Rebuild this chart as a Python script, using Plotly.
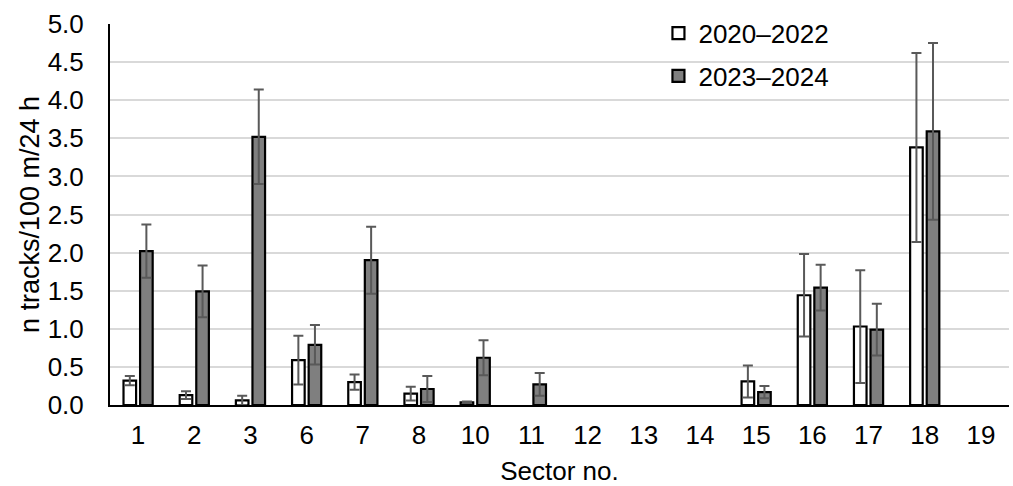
import plotly.graph_objects as go

sectors = ["1", "2", "3", "6", "7", "8", "10", "11", "12", "13", "14", "15", "16", "17", "18", "19"]
series_names = ["2020–2022", "2023–2024"]
# None = no bar drawn (zero tracks)
vals_2020_2022 = [0.32, 0.13, 0.06, 0.59, 0.30, 0.15, 0.035, None, None, None, None, 0.31, 1.44, 1.03, 3.38, None]
err_2020_2022 = [0.06, 0.05, 0.06, 0.32, 0.10, 0.09, 0.01, None, None, None, None, 0.21, 0.54, 0.74, 1.24, None]
vals_2023_2024 = [2.02, 1.49, 3.52, 0.79, 1.90, 0.21, 0.62, 0.27, None, None, None, 0.17, 1.54, 0.99, 3.59, None]
err_2023_2024 = [0.35, 0.34, 0.62, 0.26, 0.44, 0.17, 0.23, 0.15, None, None, None, 0.08, 0.30, 0.34, 1.16, None]
y_ticks = [0, 0.5, 1.0, 1.5, 2.0, 2.5, 3.0, 3.5, 4.0, 4.5, 5.0]

FONT = "Liberation Sans, Arial, sans-serif"
fills = ["#ffffff", "#7f7f7f"]

fig = go.Figure()
for name, vals, errs, fill, grp in [
    (series_names[0], vals_2020_2022, err_2020_2022, fills[0], "a"),
    (series_names[1], vals_2023_2024, err_2023_2024, fills[1], "b"),
]:
    fig.add_trace(go.Bar(
        x=sectors, y=vals, name=name, legendgroup=grp,
        marker=dict(color=fill, line=dict(color="#000000", width=2.2)),
        error_y=dict(type="data", array=errs, visible=True, color="#595959",
                     thickness=2, width=5),
    ))

fig.update_layout(
    width=1013, height=486,
    margin=dict(l=110, r=4, t=24, b=81, autoexpand=False),
    paper_bgcolor="white", plot_bgcolor="white",
    barmode="group", bargap=0.41, bargroupgap=0.24,
    font=dict(family=FONT, size=26, color="#000000"),
    showlegend=True,
    legend=dict(xref="container", yref="container", x=0.650, y=0.980,
                xanchor="left", yanchor="top",
                font=dict(size=26, color="#000000"), bgcolor="rgba(0,0,0,0)",
                tracegroupgap=6, traceorder="grouped"),
    xaxis=dict(
        title=dict(text="Sector no.", font=dict(size=26), standoff=14),
        showline=True, linecolor="#000000", linewidth=2,
        ticks="", showgrid=False, tickfont=dict(size=26),
        ticklabelstandoff=6, automargin=False,
    ),
    yaxis=dict(
        title=dict(text="n tracks/100 m/24 h", font=dict(size=27), standoff=0),
        range=[0, 5.0], tickvals=y_ticks, tickformat=".1f",
        showline=True, linecolor="#000000", linewidth=2,
        showgrid=True, gridcolor="#d9d9d9", gridwidth=2,
        zeroline=False, ticks="", tickfont=dict(size=26),
        ticklabelstandoff=19, automargin=False,
    ),
)

fig.write_html("out.html", config={"displayModeBar": False},
               post_script="document.body.style.margin='0px';")
